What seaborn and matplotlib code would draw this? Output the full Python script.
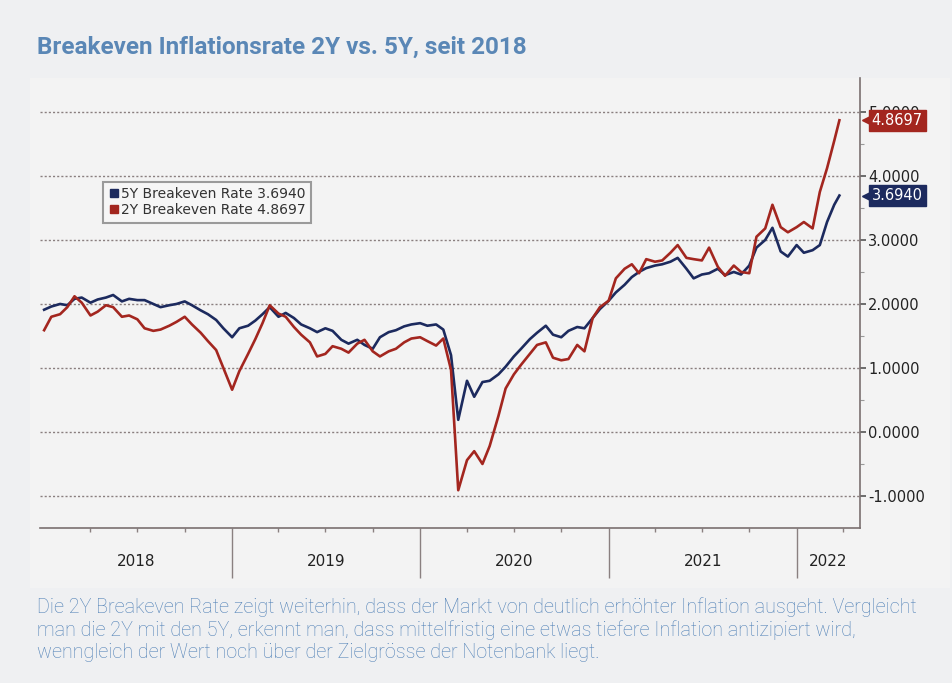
import pandas as pd
import seaborn as sns
import matplotlib.pyplot as plt
from matplotlib.lines import Line2D
from matplotlib.patches import Rectangle
import matplotlib.transforms as mtransforms

dates = list(pd.date_range('2018-01-01', '2022-03-15', freq='SMS')) + [pd.Timestamp('2022-03-25')]

be_5y = [1.91, 1.96, 2.00, 1.98, 2.08, 2.10, 2.02, 2.07, 2.10, 2.14, 2.04, 2.08,
         2.06, 2.06, 2.00, 1.95, 1.98, 2.00, 2.04, 1.98, 1.90, 1.84, 1.75, 1.62,
         1.48, 1.62, 1.66, 1.74, 1.84, 1.95, 1.80, 1.86, 1.78, 1.68, 1.62, 1.56,
         1.62, 1.58, 1.44, 1.38, 1.44, 1.36, 1.30, 1.48, 1.56, 1.59, 1.65, 1.68,
         1.70, 1.66, 1.68, 1.60, 1.20, 0.19, 0.80, 0.55, 0.78, 0.80, 0.90, 1.02,
         1.18, 1.30, 1.45, 1.55, 1.66, 1.52, 1.48, 1.58, 1.64, 1.62, 1.78, 1.92,
         2.05, 2.18, 2.30, 2.42, 2.50, 2.56, 2.60, 2.62, 2.66, 2.72, 2.55, 2.40,
         2.46, 2.48, 2.55, 2.45, 2.50, 2.46, 2.60, 2.88, 3.00, 3.19, 2.82, 2.74,
         2.92, 2.80, 2.84, 2.92, 3.28, 3.55, 3.694]

be_2y = [1.59, 1.80, 1.84, 1.95, 2.12, 2.02, 1.82, 1.88, 1.98, 1.95, 1.80, 1.82,
         1.76, 1.62, 1.58, 1.60, 1.66, 1.72, 1.80, 1.68, 1.55, 1.42, 1.28, 1.00,
         0.66, 0.95, 1.22, 1.45, 1.70, 1.98, 1.85, 1.80, 1.64, 1.52, 1.40, 1.18,
         1.22, 1.34, 1.30, 1.24, 1.38, 1.44, 1.26, 1.18, 1.26, 1.30, 1.40, 1.46,
         1.48, 1.42, 1.35, 1.46, 0.97, -0.91, -0.44, -0.30, -0.50, -0.22, 0.25, 0.68,
         0.90, 1.05, 1.22, 1.36, 1.40, 1.16, 1.12, 1.14, 1.36, 1.26, 1.78, 1.95,
         2.05, 2.40, 2.55, 2.62, 2.48, 2.70, 2.66, 2.68, 2.80, 2.92, 2.72, 2.70,
         2.68, 2.88, 2.58, 2.44, 2.60, 2.50, 2.48, 3.05, 3.18, 3.55, 3.20, 3.12,
         3.20, 3.28, 3.18, 3.75, 4.12, 4.55, 4.8697]

series_names = ['5Y Breakeven Rate', '2Y Breakeven Rate']
last_values = [3.6940, 4.8697]
colors = ['#1c2a5e', '#a3261f']
years = ['2018', '2019', '2020', '2021', '2022']
y_ticks = [-1, 0, 1, 2, 3, 4, 5]

df = pd.DataFrame({'date': dates * 2,
                   'rate': be_5y + be_2y,
                   'series': [series_names[0]] * len(dates) + [series_names[1]] * len(dates)})

bg = '#eff0f2'
fig = plt.figure(figsize=(9.53, 6.83), dpi=100, facecolor=bg)
fig.patches.append(Rectangle((30 / 953, 1 - 588 / 683), 920 / 953, 510 / 683,
                             transform=fig.transFigure, fc='#f3f3f3', ec='none', zorder=-1))
ax = fig.add_axes([40 / 953, 1 - 528 / 683, 820 / 953, 450 / 683])
ax.set_zorder(2)
ax.set_facecolor('#f3f3f3')

sns.lineplot(data=df, x='date', y='rate', hue='series', palette=colors,
             linewidth=1.9, ax=ax, legend=False)

x0, x1 = pd.Timestamp('2017-12-24'), pd.Timestamp('2022-05-04')
ax.set_xlim(x0, x1)
ax.set_ylim(-1.5, 5.53)

# grid
for v in y_ticks:
    ax.axhline(v, color='#8a7f7f', lw=1.0, ls=(0, (1.5, 1.5)), zorder=0.5)

# spines
for s in ['top', 'left']:
    ax.spines[s].set_visible(False)
for s in ['bottom', 'right']:
    ax.spines[s].set_color('#7a7070')
    ax.spines[s].set_linewidth(1.2)

# y axis right
ax.yaxis.tick_right()
ax.set_yticks(y_ticks)
ax.set_yticklabels([f'{v:.4f}' for v in y_ticks], fontsize=10.5, color='#222222')
ax.set_yticks([-0.5, 0.5, 1.5, 2.5, 3.5, 4.5], minor=True)
ax.tick_params(axis='y', which='major', length=4, width=1.2, color='#555555', pad=2)
ax.tick_params(axis='y', which='minor', length=3, width=0.8, color='#999999')
ax.set_ylabel('')

# x axis: year separators and quarterly ticks
year_starts = [pd.Timestamp(f'{y}-01-01') for y in years]
ax.set_xticks(year_starts[1:])
ax.set_xticklabels([])
quarters = [d for d in pd.date_range('2018-04-01', '2022-04-01', freq='QS') if d.month != 1]
ax.set_xticks(quarters, minor=True)
ax.tick_params(axis='x', which='major', length=36, width=1.0, color='#8a8080')
ax.tick_params(axis='x', which='minor', length=3, width=1.0, color='#8a8080')
ax.set_xlabel('')

trans = mtransforms.blended_transform_factory(ax.transData, ax.transAxes)
edges = [x0] + year_starts[1:] + [x1]
for i, y in enumerate(years):
    mid = edges[i] + (edges[i + 1] - edges[i]) / 2
    ax.text(mid, -0.075, y, transform=trans, ha='center', va='center',
            fontsize=11, color='#222222')

# last value badges: small pointer + box
for val, col in zip(last_values, colors):
    ax.plot([1.008], [val], marker='<', markersize=7, color=col,
            transform=mtransforms.blended_transform_factory(ax.transAxes, ax.transData),
            clip_on=False, zorder=6)
    ax.annotate(f'{val:.4f}', xy=(1.0, val), xycoords=('axes fraction', 'data'),
                xytext=(8.5, 0), textcoords='offset points', ha='left', va='center',
                fontsize=10.5, color='white', zorder=6,
                bbox=dict(boxstyle='square,pad=0.2', fc=col, ec=col))

# legend
handles = [Line2D([], [], marker='s', ls='none', color=c, markersize=6) for c in colors]
labels = [f'{n} {v:.4f}' for n, v in zip(series_names, last_values)]
leg = ax.legend(handles, labels, loc='upper left', bbox_to_anchor=(0.068, 0.785),
                fontsize=10, handletextpad=0.1, handlelength=0.8, borderpad=0.4,
                labelspacing=0.15, fancybox=False, framealpha=1)
leg.get_frame().set_edgecolor('#9a9a9a')
leg.get_frame().set_facecolor('#f6f6f6')
leg.get_frame().set_linewidth(1.5)
for t in leg.get_texts():
    t.set_color('#333333')

# title and caption
fig.text(37 / 953, 1 - 47 / 683, 'Breakeven Inflationsrate 2Y vs. 5Y, seit 2018',
         fontsize=17.5, fontweight='bold', color='#5a87b6', family='Roboto',
         ha='left', va='center')
caption = ['Die 2Y Breakeven Rate zeigt weiterhin, dass der Markt von deutlich erhöhter Inflation ausgeht. Vergleicht',
           'man die 2Y mit den 5Y, erkennt man, dass mittelfristig eine etwas tiefere Inflation antizipiert wird,',
           'wenngleich der Wert noch über der Zielgrösse der Notenbank liegt.']
for i, line in enumerate(caption):
    fig.text(37 / 953, 1 - (607 + 23 * i) / 683, line, fontsize=14.2, color='#4f80b6',
             family='Roboto', fontweight='light', ha='left', va='center')

plt.savefig('out.png', dpi=100, facecolor=bg)
